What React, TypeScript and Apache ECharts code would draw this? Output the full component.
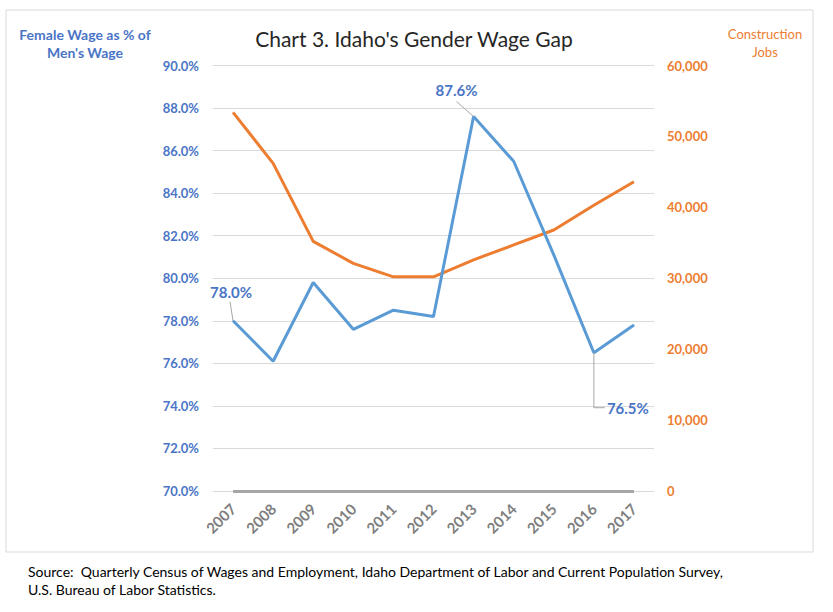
import React, { useEffect, useRef } from 'react';
import * as echarts from 'echarts';

const years = ['2007', '2008', '2009', '2010', '2011', '2012', '2013', '2014', '2015', '2016', '2017'];
const wageRatio = [78.0, 76.1, 79.8, 77.6, 78.5, 78.2, 87.6, 85.5, 81.1, 76.5, 77.8];
const constructionJobs = [53400, 46200, 35200, 32100, 30200, 30200, 32600, 34700, 36800, 40300, 43600];

// label offsets (dx, dy from default 'top') and leader line shapes (relative to the point)
const labelled: Record<number, [number, number]> = { 0: [-2, -16], 6: [-17, -14], 9: [34, 68] };
const leaders: Record<number, number[][]> = {
  0: [[0, 0], [-3, -19]],
  6: [[0, 0], [-17, -15]],
  9: [[0, 0], [0, 55], [11, 55]],
};

const FONT = 'Lato';
const BLUE_TEXT = '#4a75c6';
const ORANGE_TEXT = '#ed7d31';

export default function App() {
  const ref = useRef<HTMLDivElement>(null);

  useEffect(() => {
    if (!ref.current) return;
    const chart = echarts.init(ref.current, null, { renderer: 'svg' });

    const baseGraphic: any[] = [
      {
        type: 'rect',
        shape: { x: 6, y: 10, width: 807, height: 542 },
        style: { fill: 'none', stroke: '#d9d9d9', lineWidth: 1 },
        silent: true,
      },
      {
        type: 'text',
        x: 85,
        y: 25,
        style: {
          text: "Female Wage as % of\nMen's Wage",
          fontFamily: FONT,
          fontSize: 14,
          fontWeight: 'bold',
          fill: BLUE_TEXT,
          align: 'center',
          lineHeight: 18,
        },
      },
      {
        type: 'text',
        x: 765,
        y: 25,
        style: {
          text: 'Construction\nJobs',
          fontFamily: FONT,
          fontSize: 13,
          fill: ORANGE_TEXT,
          align: 'center',
          lineHeight: 18,
        },
      },
      {
        type: 'text',
        x: 28,
        y: 562,
        style: {
          text: 'Source:  Quarterly Census of Wages and Employment, Idaho Department of Labor and Current Population Survey,\nU.S. Bureau of Labor Statistics.',
          fontFamily: FONT,
          fontSize: 14,
          fill: '#000',
          lineHeight: 18,
        },
      },
    ];

    chart.setOption({
      animation: false,
      textStyle: { fontFamily: FONT },
      title: {
        text: "Chart 3. Idaho's Gender Wage Gap",
        left: 409,
        top: 23,
        textAlign: 'center',
        textStyle: { fontFamily: FONT, fontSize: 21, fontWeight: 'normal', color: '#262626' },
      },
      graphic: baseGraphic,
      grid: { left: 213, right: 179, top: 65.5, bottom: 121 },
      xAxis: {
        type: 'category',
        data: years,
        boundaryGap: true,
        axisLine: { show: false },
        axisTick: { show: false },
        axisLabel: {
          rotate: 45,
          margin: 15,
          color: '#7f7f7f',
          fontWeight: 'bold',
          fontSize: 15,
          fontFamily: FONT,
        },
      },
      yAxis: [
        {
          type: 'value',
          min: 70,
          max: 90,
          interval: 2,
          axisLine: { show: false },
          axisTick: { show: false },
          splitLine: { lineStyle: { color: '#d9d9d9', width: 1 } },
          axisLabel: {
            margin: 14,
            color: BLUE_TEXT,
            fontWeight: 'bold',
            fontSize: 13,
            fontFamily: FONT,
            formatter: (v: number) => v.toFixed(1) + '%',
          },
        },
        {
          type: 'value',
          min: 0,
          max: 60000,
          interval: 10000,
          axisLine: { show: false },
          axisTick: { show: false },
          splitLine: { show: false },
          axisLabel: {
            margin: 13,
            color: ORANGE_TEXT,
            fontWeight: 'bold',
            fontSize: 13,
            fontFamily: FONT,
            formatter: (v: number) => v.toLocaleString('en-US'),
          },
        },
      ],
      series: [
        {
          name: 'Construction Jobs',
          type: 'line',
          yAxisIndex: 1,
          data: constructionJobs,
          symbol: 'none',
          lineStyle: { color: '#ed7d31', width: 3 },
          z: 2,
        },
        {
          name: "Female Wage as % of Men's Wage",
          type: 'line',
          yAxisIndex: 0,
          data: wageRatio.map((v, i) =>
            labelled[i] !== undefined ? { value: v, label: { show: true } } : v
          ),
          symbol: 'circle',
          symbolSize: 1,
          showSymbol: true,
          showAllSymbol: true,
          itemStyle: { color: '#5b9bd5' },
          lineStyle: { color: '#5b9bd5', width: 3 },
          label: {
            show: false,
            position: 'top',
            color: BLUE_TEXT,
            fontWeight: 'bold',
            fontSize: 15,
            fontFamily: FONT,
            formatter: (p: any) => Number(p.value).toFixed(1) + '%',
          },
          labelLine: { show: false },
          labelLayout: (p: any) => {
            const off = labelled[p.dataIndex];
            return off ? { dx: off[0], dy: off[1] } : {};
          },
          markLine: {
            silent: true,
            symbol: 'none',
            label: { show: false },
            lineStyle: { color: '#a6a6a6', width: 3, type: 'solid' },
            data: [[{ coord: [years[0], 70] }, { coord: [years[years.length - 1], 70] }]],
          },
          z: 3,
        },
      ],
    });

    // leader lines for the data labels, anchored through the chart's own scales
    const leaderGraphic = Object.keys(leaders).map((k) => {
      const i = Number(k);
      const [px, py] = chart.convertToPixel({ xAxisIndex: 0, yAxisIndex: 0 }, [years[i], wageRatio[i]]) as number[];
      return {
        type: 'polyline',
        silent: true,
        z: 10,
        shape: { points: leaders[i].map(([dx, dy]) => [px + dx, py + dy]) },
        style: { stroke: '#a6a6a6', lineWidth: 1, fill: 'none' },
      };
    });
    chart.setOption({ graphic: [...baseGraphic, ...leaderGraphic] });

    return () => chart.dispose();
  }, []);

  return (
    <div
      ref={ref}
      style={{ position: 'fixed', left: 0, top: 0, width: 833, height: 612, background: '#fff' }}
    />
  );
}
